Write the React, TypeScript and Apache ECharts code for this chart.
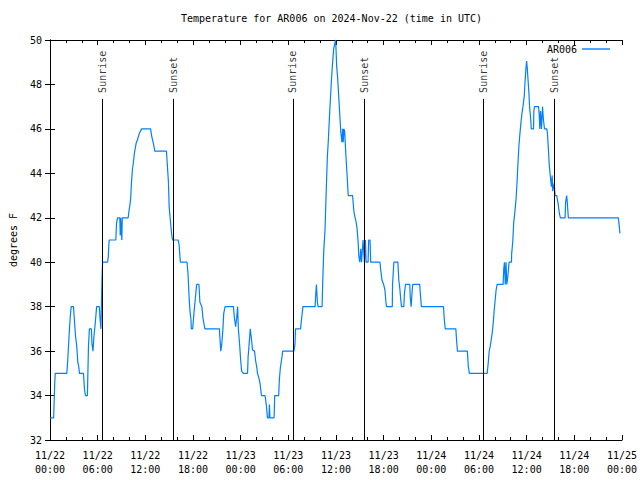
import React, { useEffect, useRef } from "react";
import * as echarts from "echarts";

const TITLE = "Temperature for AR006 on 2024-Nov-22 (time in UTC)";
const SERIES_NAME = "AR006";
const Y_NAME = "degrees F";
const X_TICK_LABELS = [
  "11/22\n00:00", "11/22\n06:00", "11/22\n12:00", "11/22\n18:00",
  "11/23\n00:00", "11/23\n06:00", "11/23\n12:00", "11/23\n18:00",
  "11/24\n00:00", "11/24\n06:00", "11/24\n12:00", "11/24\n18:00",
  "11/25\n00:00",
];

// hours since 11/22 00:00 UTC
const hours = [
  0.0, 0.46, 0.5, 0.59, 0.66, 2.12, 2.25, 2.37, 2.54, 2.66, 2.96, 3.09, 3.21, 3.37, 3.5, 3.62, 3.71,
  4.21, 4.34, 4.46, 4.71, 4.75, 4.84, 4.96, 5.21, 5.29, 5.41, 5.54, 5.71, 5.87, 6.21, 6.29, 6.41,
  6.54, 6.62, 7.25, 7.34, 7.41, 7.46, 8.29, 8.37, 8.5, 8.79, 8.84, 8.9, 9.04, 9.1, 9.84, 9.96,
  10.09, 10.16, 10.25, 10.37, 10.5, 10.62, 10.84, 11.0, 11.25, 11.54, 12.66, 12.79, 12.91, 13.04,
  13.19, 14.66, 14.75, 14.91, 15.0, 15.12, 15.25, 15.37, 15.44, 16.12, 16.25, 16.37, 16.41, 17.25,
  17.37, 17.5, 17.62, 17.75, 17.79, 17.96, 18.12, 18.25, 18.46, 18.75, 18.87, 19.12, 19.25, 19.5,
  21.34, 21.37, 21.5, 21.62, 21.75, 21.87, 22.04, 23.09, 23.21, 23.37, 23.5, 23.62, 23.71, 23.87,
  24.0, 24.12, 24.34, 24.87, 24.94, 25.0, 25.21, 25.34, 25.5, 25.75, 25.87, 26.04, 26.12, 26.29,
  26.46, 26.62, 27.04, 27.12, 27.25, 27.37, 27.56, 27.62, 27.69, 28.21, 28.29, 28.79, 28.87, 29.0,
  29.21, 29.29, 30.71, 30.84, 30.91, 31.54, 31.62, 31.75, 31.84, 33.37, 33.46, 33.54, 33.66, 33.75,
  34.25, 34.34, 34.46, 34.62, 34.79, 34.91, 35.04, 35.16, 35.29, 35.41, 35.54, 35.71, 35.96, 36.09,
  36.21, 36.34, 36.5, 36.62, 36.75, 36.84, 36.91, 37.0, 37.09, 37.25, 37.41, 37.54, 38.09, 38.16,
  38.25, 38.41, 38.54, 38.66, 38.79, 38.87, 39.0, 39.12, 39.21, 39.41, 39.58, 39.71, 39.79, 40.04,
  40.12, 40.29, 40.37, 41.54, 41.62, 41.79, 42.0, 42.16, 42.29, 42.37, 43.09, 43.12, 43.29, 43.79,
  43.91, 44.04, 44.16, 44.25, 44.54, 44.62, 44.75, 45.29, 45.37, 45.46, 45.59, 45.66, 46.54, 46.62,
  46.75, 49.54, 49.62, 49.75, 51.09, 51.16, 51.25, 51.29, 52.54, 52.66, 52.79, 55.04, 55.16, 55.29,
  55.41, 55.54, 55.66, 55.79, 55.91, 56.04, 56.16, 56.29, 57.04, 57.12, 57.21, 57.31, 57.41, 57.5,
  57.62, 57.79, 58.09, 58.12, 58.25, 58.37, 58.5, 58.66, 58.79, 58.91, 59.04, 59.16, 59.29, 59.41,
  59.54, 59.71, 59.79, 59.91, 60.0, 60.09, 60.16, 60.29, 60.37, 60.5, 60.59, 60.87, 60.91, 61.0,
  61.5, 61.59, 61.66, 61.75, 61.87, 62.0, 62.12, 62.25, 62.54, 62.62, 62.71, 62.79, 62.87, 63.0,
  63.12, 63.21, 63.29, 63.46, 63.59, 63.79, 63.96, 64.12, 64.25, 64.84, 64.91, 65.04, 65.12, 65.25,
  71.54, 71.62, 71.75,
];

const temps = [
  33, 33, 33.5, 34.5, 35, 35, 35.7, 36.5, 37.5, 38, 38, 37.3, 36.7, 36.2, 35.5, 35.3, 35,
  35, 34.3, 34, 34, 34.7, 36.2, 37, 37, 36.3, 36, 36.7, 37.3, 38, 38, 37.5, 37,
  39.2, 40, 40, 40.25, 40.8, 41, 41, 41.75, 42, 42, 41.2, 42, 41, 42, 42, 42.35,
  42.65, 42.9, 43.55, 44.15, 44.5, 44.9, 45.35, 45.5, 45.8, 46, 46, 45.7, 45.5, 45.3,
  45, 45, 44.5, 43.6, 42.5, 42, 41.5, 41.1, 41, 41, 40.8, 40.2, 40, 40,
  39.5, 38.5, 37.8, 37.4, 37, 37, 37.7, 38.2, 39, 39, 38.2, 38, 37.5, 37,
  37, 36.7, 36, 36.3, 36.9, 37.7, 38, 38, 37.5, 37.1, 37.5, 38, 37, 36.3,
  35.6, 35.1, 35, 35, 35.75, 36, 37, 36.6, 36.05, 36, 35.6, 35.25, 35, 34.8,
  34.5, 34, 34, 33.9, 33.5, 33, 33, 33.6, 33, 33, 34, 34, 34.7, 35.25,
  35.75, 36, 36, 36.3, 37, 37, 37.3, 37.7, 38, 38, 38.6, 39, 38.2, 38,
  38, 39.2, 40.5, 41.45, 43.4, 44.7, 45.5, 46.4, 47.3, 48.1, 48.8, 49.6, 50, 48.8,
  48.3, 47.5, 46.5, 45.8, 45.4, 46, 45.4, 46, 45.9, 44.8, 43.85, 43, 43, 42.7,
  42.3, 42, 41.8, 41.5, 40.9, 40.3, 40, 40.6, 40, 41, 40, 41, 40, 40,
  41, 41, 40, 40, 39.7, 39.2, 39, 38.75, 38.2, 38, 38, 39, 40, 40,
  39.2, 38.8, 38.3, 38, 38, 38.6, 39, 39, 38.3, 38, 38.7, 39, 39, 38.6,
  38, 38, 37.5, 37, 37, 36.6, 36.2, 36, 36, 35.3, 35, 35, 35.45, 36,
  36.2, 36.5, 36.8, 37.25, 37.8, 38.3, 38.75, 39, 39, 39.7, 40, 39, 40, 39,
  39.3, 40, 40, 40.4, 40.9, 41.75, 42.2, 42.8, 43.55, 44.45, 45.3, 45.8, 46.3, 46.7,
  47, 47.5, 48.05, 48.7, 49.05, 48.7, 48.3, 47.6, 47, 46.5, 46, 46, 46.8, 47,
  47, 46.6, 46, 46.8, 46, 47, 46.4, 46, 46, 45.8, 45.3, 44.75, 44.3, 43.8,
  43.4, 43.9, 43.2, 43.55, 43, 43, 42.65, 42.2, 42, 42, 42.7, 43, 42.7, 42,
  42, 41.75, 41.3,
];

const sunHours = [6.55, 15.5, 30.57, 39.53, 54.55, 63.45];
const sunLabels = ["Sunrise", "Sunset", "Sunrise", "Sunset", "Sunrise", "Sunset"];
const SUN_LINE_TOP = 47.35;
const SUN_LABEL_BASE = 47.62;

const FONT = "DejaVu Sans Mono";

export default function App() {
  const ref = useRef<HTMLDivElement>(null);
  useEffect(() => {
    if (!ref.current) return;
    const chart = echarts.init(ref.current, undefined, { renderer: "svg" });
    const lineData = hours.map((h, i) => [h, temps[i]]);
    const axisCommon = {
      axisLine: { show: true, lineStyle: { color: "#000", width: 1 } },
      splitLine: { show: false },
    };
    chart.setOption({
      animation: false,
      backgroundColor: "#fff",
      textStyle: { fontFamily: FONT, color: "#000" },
      graphic: [
        {
          type: "text",
          left: 334 - 153,
          top: 13,
          style: { text: TITLE, fill: "#000", font: `10px "${FONT}"` },
        },
      ],
      legend: {
        data: [{ name: SERIES_NAME, icon: "rect" }],
        right: 25,
        top: 39,
        align: "right",
        itemWidth: 28,
        itemHeight: 1.4,
        itemStyle: { color: "#0080ff" },
        textStyle: { fontFamily: FONT, fontSize: 10, color: "#000" },
      },
      grid: { left: 47, right: 17, top: 40, bottom: 40, containLabel: false },
      xAxis: [
        {
          type: "value",
          min: 0,
          max: 72,
          interval: 6,
          position: "bottom",
          ...axisCommon,
          axisTick: { show: true, inside: true, length: 5, lineStyle: { color: "#000" } },
          minorTick: { show: true, splitNumber: 3, length: 3, lineStyle: { color: "#000" } },
          axisLabel: {
            show: true,
            margin: 8,
            fontFamily: FONT,
            fontSize: 10,
            lineHeight: 14,
            color: "#000",
            formatter: (v: number) => X_TICK_LABELS[Math.round(v / 6)] ?? "",
          },
        },
        {
          type: "value",
          min: 0,
          max: 72,
          interval: 6,
          position: "top",
          ...axisCommon,
          axisTick: { show: true, inside: true, length: 5, lineStyle: { color: "#000" } },
          minorTick: { show: true, splitNumber: 3, length: 3, lineStyle: { color: "#000" } },
          axisLabel: { show: false },
        },
      ],
      yAxis: [
        {
          type: "value",
          min: 32,
          max: 50,
          interval: 2,
          position: "left",
          ...axisCommon,
          axisTick: { show: true, inside: true, length: 5, lineStyle: { color: "#000" } },
          axisLabel: { show: true, margin: 8, fontFamily: FONT, fontSize: 10, color: "#000" },
          name: Y_NAME,
          nameLocation: "middle",
          nameRotate: 90,
          nameGap: 32,
          nameTextStyle: { fontFamily: FONT, fontSize: 10, color: "#000" },
        },
        {
          type: "value",
          min: 32,
          max: 50,
          interval: 2,
          position: "right",
          ...axisCommon,
          axisTick: { show: true, inside: true, length: 5, lineStyle: { color: "#000" } },
          axisLabel: { show: false },
        },
      ],
      series: [
        {
          name: SERIES_NAME,
          type: "line",
          data: lineData,
          symbol: "none",
          showSymbol: false,
          lineStyle: { color: "#0080ff", width: 1.2 },
          itemStyle: { color: "#0080ff" },
          z: 2,
        },
        {
          name: "sun",
          type: "line",
          data: [],
          z: 3,
          markLine: {
            silent: true,
            symbol: ["none", "none"],
            label: { show: false },
            lineStyle: { color: "#000", width: 1, type: "solid" },
            data: sunHours.map((h) => [{ coord: [h, 32] }, { coord: [h, SUN_LINE_TOP] }]),
          },
        },
        {
          name: "sunLabels",
          type: "scatter",
          data: sunHours.map((h) => [h, SUN_LABEL_BASE]),
          symbolSize: 0,
          silent: true,
          label: {
            show: true,
            position: "inside",
            rotate: 90,
            align: "left",
            verticalAlign: "middle",
            fontFamily: FONT,
            fontSize: 10,
            color: "#000",
            formatter: (p: any) => sunLabels[p.dataIndex],
          },
        },
      ],
    });
    return () => chart.dispose();
  }, []);
  return (
    <div
      ref={ref}
      style={{ position: "fixed", left: 0, top: 0, width: 640, height: 480 }}
    />
  );
}
